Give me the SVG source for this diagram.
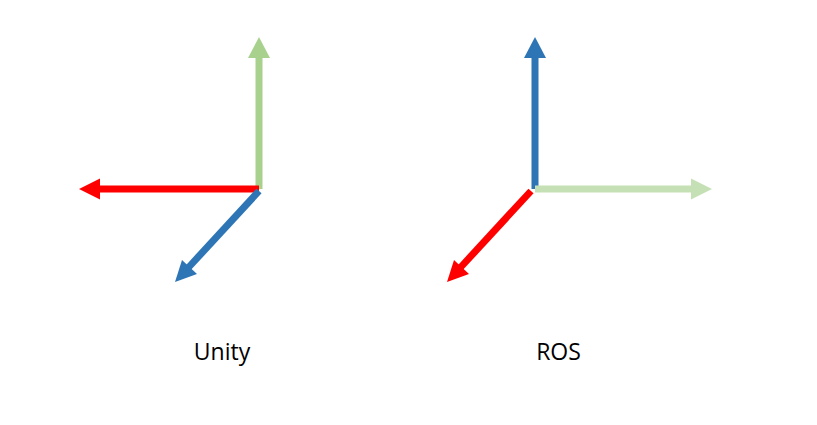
<svg xmlns="http://www.w3.org/2000/svg" width="817" height="425" viewBox="0 0 817 425">
<style>
.lbl{font-family:"Open Sans","Liberation Sans",sans-serif;font-size:23px;fill:#000;text-anchor:middle}
.ax{stroke-width:7;fill:none;stroke-linecap:butt}
</style>
<rect width="817" height="425" fill="#fff"/>
<g id="connectors">
<!-- Unity -->
<g id="unity-y">
<line class="ax" x1="259" y1="189" x2="259" y2="56" stroke="#A9D18E"/>
<polygon points="259,37 270,58 248,58" fill="#A9D18E"/>
</g>
<g id="unity-x">
<line class="ax" x1="259" y1="189" x2="97" y2="189" stroke="#FF0000"/>
<polygon points="79,189 100,178.5 100,199.5" fill="#FF0000"/>
</g>
<g id="unity-z">
<line class="ax" x1="259" y1="191" x2="188" y2="268" stroke="#2E75B6"/>
<polygon points="175,282 182,260 197,274" fill="#2E75B6"/>
</g>
<!-- ROS -->
<g id="ros-z">
<line class="ax" x1="535" y1="189" x2="535" y2="56" stroke="#2E75B6"/>
<polygon points="535,37 546,58 524,58" fill="#2E75B6"/>
</g>
<g id="ros-y">
<line class="ax" x1="535" y1="189" x2="693" y2="189" stroke="#C5E0B4"/>
<polygon points="712,189 691,178.5 691,199.5" fill="#C5E0B4"/>
</g>
<g id="ros-x">
<line class="ax" x1="531" y1="191" x2="460" y2="268" stroke="#FF0000"/>
<polygon points="447,282 454,260 469,274" fill="#FF0000"/>
</g>
</g>
<g id="label-unity"><text class="lbl" x="222" y="360">Unity</text></g>
<g id="label-ros"><text class="lbl" x="558.5" y="360">ROS</text></g>
</svg>
